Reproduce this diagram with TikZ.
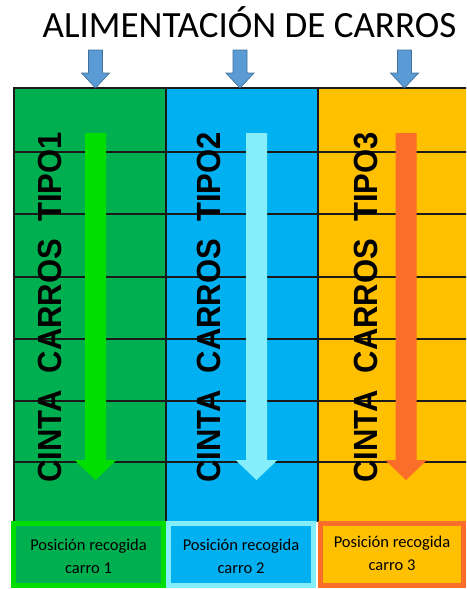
\documentclass[tikz,border=0pt]{standalone}
\usepackage{fontspec}
\setmainfont{Carlito}
\newfontfamily\beltfont{Liberation Sans}
\definecolor{beltgreen}{HTML}{00B050}
\definecolor{beltblue}{HTML}{00B0F0}
\definecolor{beltyellow}{HTML}{FFC000}
\definecolor{flowgreen}{HTML}{00DD00}
\definecolor{flowcyan}{HTML}{85EEFA}
\definecolor{floworange}{HTML}{FA6E2A}
\definecolor{feedfill}{HTML}{5B9BD5}
\definecolor{feedline}{HTML}{41719C}
\definecolor{gridline}{HTML}{1A1A1A}
\newcommand{\tallbelt}[1]{\scalebox{1}[1.08]{#1}}
\tikzset{
  gridrule/.style={draw=gridline, line width=1.4pt},
  feedarrow/.style={fill=feedfill, draw=feedline, line width=0.7pt},
  beltlabel/.style={rotate=90, anchor=base, inner sep=0pt,
    font=\beltfont\bfseries\fontsize{31}{37}\selectfont},
  pickbox/.style={line width=5pt, minimum height=62pt, inner sep=0pt},
  picklabel/.style={align=center, inner sep=0pt,
    font=\fontsize{16.5}{23}\selectfont}
}
\begin{document}
\begin{tikzpicture}[x=1pt,y=-1pt]
\useasboundingbox (0,0) rectangle (466,589);
\clip (0,0) rectangle (466,589);

% title
\node[anchor=base, inner sep=0pt, font=\fontsize{37}{44}\selectfont]
  (title) at (249.5,37) {ALIMENTACIÓN DE CARROS};

% belt columns
\fill[beltgreen]  (14,88) rectangle (166,522);
\fill[beltblue]   (166,88) rectangle (318,522);
\fill[beltyellow] (318,88) rectangle (470,522);

% slot rules
\foreach \yy in {152,214,277,339,401,462}
  \draw[gridrule] (14,\yy) -- (470,\yy);
\draw[gridrule] (14,522) -- (14,88) -- (470,88);
\draw[gridrule] (166,88) -- (166,522);
\draw[gridrule] (318,88) -- (318,522);

% feed arrows above each belt
\foreach \cx in {95.5,240,404.5}
  \draw[feedarrow] (\cx-7,50) -- (\cx+7,50) -- (\cx+7,73) -- (\cx+14,73)
    -- (\cx,88) -- (\cx-14,73) -- (\cx-7,73) -- cycle;

% flow arrows along each belt
\foreach \cx/\col in {95.5/flowgreen,256.5/flowcyan,406/floworange}
  \fill[\col] (\cx-10.5,133) -- (\cx+10.5,133) -- (\cx+10.5,460) -- (\cx+21,460)
    -- (\cx,480) -- (\cx-21,460) -- (\cx-10.5,460) -- cycle;

% belt names
\node[beltlabel] (belt1) at (61,307.5)  {\tallbelt{CINTA\ \ CARROS\ \ TIPO1}};
\node[beltlabel] (belt2) at (220,307.5) {\tallbelt{CINTA\ \ CARROS\ \ TIPO2}};
\node[beltlabel] (belt3) at (377,307.5) {\tallbelt{CINTA\ \ CARROS\ \ TIPO3}};

% pick-up positions
\node[pickbox, draw=flowgreen, fill=beltgreen, minimum width=150pt]
  (pick1) at (88.5,554.5) {};
\node[pickbox, draw=flowcyan, fill=beltblue, minimum width=145pt]
  (pick2) at (241,554.5) {};
\node[pickbox, draw=floworange, fill=beltyellow, minimum width=143pt]
  (pick3) at (392,554.5) {};
\node[picklabel] (text1) at (88.5,556) {Posición recogida\\carro 1};
\node[picklabel] (text2) at (241,556) {Posición recogida\\carro 2};
\node[picklabel] (text3) at (392,553.5) {Posición recogida\\carro 3};
\end{tikzpicture}
\end{document}
